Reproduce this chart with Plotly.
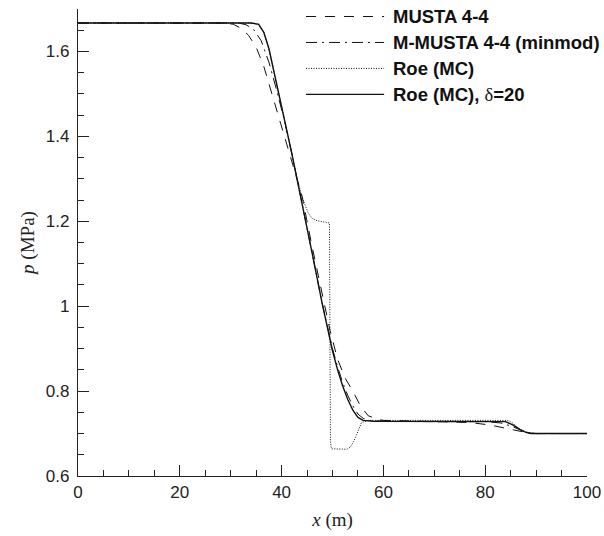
import plotly.graph_objects as go

# ---- data ----
x_musta = [0, 29, 30.5, 32, 33.5, 35, 36.5, 38, 40, 42, 44, 46, 48, 49.5, 51, 52.5, 54, 55.5, 57, 58.5, 60, 70, 77, 81, 84, 87, 90, 100]
p_musta = [1.667, 1.667, 1.664, 1.655, 1.638, 1.61, 1.565, 1.505, 1.425, 1.345, 1.26, 1.14, 1.025, 0.9435, 0.875, 0.83, 0.80, 0.765, 0.742, 0.735, 0.731, 0.728, 0.726, 0.72, 0.712, 0.705, 0.70, 0.70]

x_mmusta = [0, 31.5, 33, 34.5, 36, 37.5, 39, 40.5, 42, 44, 46, 48, 50, 51, 52, 53, 54, 55, 56, 57, 60, 70, 80, 83, 85, 87, 89, 90, 100]
p_mmusta = [1.667, 1.667, 1.663, 1.652, 1.625, 1.575, 1.51, 1.44, 1.36, 1.245, 1.125, 1.005, 0.9, 0.857, 0.82, 0.79, 0.765, 0.746, 0.736, 0.731, 0.729, 0.728, 0.728, 0.725, 0.718, 0.708, 0.701, 0.70, 0.70]

x_roe = [0, 34, 35.5, 36.5, 37.5, 38.5, 40, 42, 43, 44, 44.5, 45.2, 46, 47, 48.5, 49.4, 49.5, 49.6, 49.8, 52.8, 53.5, 54.2, 55, 55.7, 57, 70, 84.5, 85.5, 86.5, 88, 89, 100]
p_roe = [1.667, 1.667, 1.664, 1.645, 1.607, 1.555, 1.47, 1.36, 1.303, 1.258, 1.24, 1.22, 1.207, 1.201, 1.198, 1.196, 0.93, 0.68, 0.664, 0.663, 0.668, 0.682, 0.705, 0.726, 0.731, 0.731, 0.731, 0.724, 0.712, 0.703, 0.70, 0.70]

x_roe20 = [0, 34, 35.5, 36.5, 37.5, 38.5, 40, 42, 44, 46, 48, 50, 51, 52, 53, 54, 55, 56, 58, 70, 80, 84, 85.5, 86.8, 88, 89, 95, 100]
p_roe20 = [1.667, 1.667, 1.664, 1.645, 1.607, 1.555, 1.47, 1.36, 1.245, 1.125, 1.005, 0.895, 0.85, 0.812, 0.78, 0.755, 0.738, 0.731, 0.729, 0.729, 0.729, 0.728, 0.72, 0.71, 0.703, 0.70, 0.70, 0.70]

series_names = ["MUSTA 4-4", "M-MUSTA 4-4 (minmod)", "Roe (MC)",
                "Roe (MC), <span style='font-family:Liberation Serif;font-weight:normal'>δ</span>=20"]
x_ticks = [0, 20, 40, 60, 80, 100]
y_ticks = [0.6, 0.8, 1.0, 1.2, 1.4, 1.6]

styles = [
    dict(dash="10px,9px", width=1.0),
    dict(dash="11px,5px,2px,5px", width=1.0),
    dict(dash="1px,1.5px", width=1.0),
    dict(dash="solid", width=1.4),
]

fig = go.Figure()
data = [(x_musta, p_musta), (x_mmusta, p_mmusta), (x_roe, p_roe), (x_roe20, p_roe20)]
for (xs, ps), st in zip(data, styles):
    fig.add_trace(go.Scatter(x=xs, y=ps, mode="lines", showlegend=False,
                             line=dict(color="#111", width=st["width"], dash=st["dash"])))

# ---- manual legend (long line samples as in the reference) ----
L, R, T, B = 78.3, 586.6, 8.5, 476.0
def px(X):
    return (X - L) / (R - L)
def py(Y):
    return (B - Y) / (B - T)

rows = [16, 42, 68, 94]
for name, st, Y in zip(series_names, styles, rows):
    fig.add_shape(type="line", xref="paper", yref="paper",
                  x0=px(306), x1=px(384), y0=py(Y), y1=py(Y),
                  line=dict(color="#111", width=st["width"], dash=st["dash"]))
    fig.add_annotation(xref="paper", yref="paper", x=px(391), y=py(Y),
                       xanchor="left", yanchor="middle", showarrow=False,
                       text="<b>" + name + "</b>",
                       font=dict(family="Liberation Sans, Arial, sans-serif", size=18.5, color="#111"))

tickfont = dict(family="Liberation Sans, Arial, sans-serif", size=17, color="#222")
titlefont = dict(family="Liberation Serif, Times New Roman, serif", size=19, color="#222")

fig.update_xaxes(range=[0, 100], tickvals=x_ticks, ticktext=[str(v) for v in x_ticks],
                 showline=True, linecolor="#222", linewidth=1.3,
                 ticks="inside", ticklen=11, tickwidth=1.2, tickcolor="#222",
                 minor=dict(dtick=5, tick0=0, ticks="inside", ticklen=6, tickwidth=1, tickcolor="#222"),
                 showgrid=False, zeroline=False, tickfont=tickfont,
                 title=dict(text="<i>x</i> (m)", font=titlefont, standoff=12))
fig.update_yaxes(range=[0.6, 1.70], tickvals=y_ticks, ticktext=["0.6", "0.8", "1", "1.2", "1.4", "1.6"],
                 showline=True, linecolor="#222", linewidth=1.3,
                 ticks="inside", ticklen=11, tickwidth=1.2, tickcolor="#222",
                 minor=dict(dtick=0.05, tick0=0.6, ticks="inside", ticklen=6, tickwidth=1, tickcolor="#222"),
                 showgrid=False, zeroline=False, tickfont=tickfont, ticklabelstandoff=4,
                 title=dict(text="<i>p</i> (MPa)", font=titlefont, standoff=6))

fig.update_layout(width=604, height=536, plot_bgcolor="white", paper_bgcolor="white",
                  margin=dict(l=L, r=604 - R, t=T, b=536 - B, autoexpand=False))

fig.write_html("out.html", config={"displayModeBar": False},
               post_script="document.body.style.margin='0';document.body.style.overflow='hidden';")
